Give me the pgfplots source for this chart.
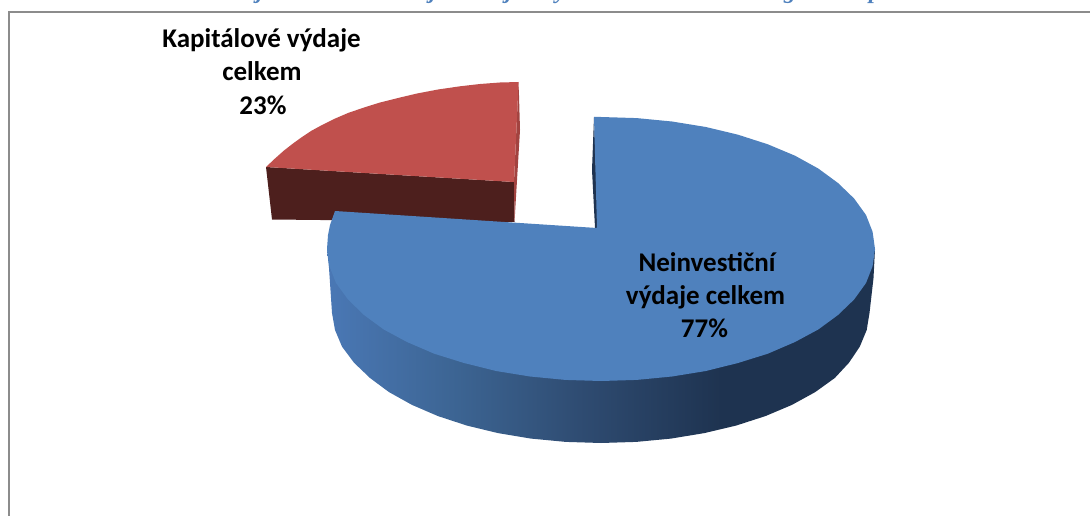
\documentclass[border=0pt]{standalone}
\usepackage{pgfplots}
\pgfplotsset{compat=1.18}
\usepackage{fontspec}
\setmainfont{Carlito}
\newfontfamily\titlefont{Liberation Serif}
\definecolor{pieblue}{HTML}{4F81BD}
\definecolor{piered}{HTML}{C0504D}
\definecolor{darkred}{HTML}{4D1F1D}
\definecolor{midred}{HTML}{A24340}
\definecolor{sliver}{HTML}{1F3350}
\definecolor{framegray}{HTML}{8C8C8C}
\pgfdeclarehorizontalshading{sideblue}{100bp}{
  rgb(0bp)=(0.29,0.47,0.71);
  rgb(25bp)=(0.29,0.47,0.71);
  rgb(37bp)=(0.235,0.392,0.573);
  rgb(48bp)=(0.184,0.298,0.447);
  rgb(61bp)=(0.118,0.2,0.314);
  rgb(75bp)=(0.118,0.2,0.314);
  rgb(100bp)=(0.118,0.2,0.314)}
\begin{document}
\begin{tikzpicture}
\useasboundingbox (0,0) rectangle (1090bp,516bp);
\begin{axis}[
  at={(0,0)}, anchor=south west,
  scale only axis, width=1090bp, height=516bp,
  xmin=0, xmax=1090, ymin=0, ymax=516, y dir=reverse,
  hide axis, clip=false, no markers]
% frame
\addplot[framegray, line width=2bp] coordinates {(9,516) (9,11.8) (1090,11.8)};
% red slice: front cut face, inner sliver, top
\addplot[draw=none, fill=darkred] coordinates {(266,167) (514,182) (514.5,222) (272,219.5)} --cycle;
\addplot[draw=none, fill=midred] coordinates {(518.6,82) (520,130) (514.5,222) (514,182)} --cycle;
\addplot[draw=none, fill=piered] coordinates {(518.6,82) (500,82.5) (480,84) (460,86.3) (438,89.5) (417,93.5) (398,98) (380,102.5) (364,107.5) (348,113) (334,119) (322,125) (311,131) (302,137) (293,143.5) (284,150.5) (275,158.5) (266,167) (514,182)} --cycle;
% blue slice: rim
\addplot[draw=none, shade, shading=sideblue] coordinates {
 (327,249) (329,268) (332,313) (335,330) (342,346.6) (354,362.7) (370,378) (389,392.1) (412,404.9) (438,416.1) (467,425.6) (498,433.1) (531.1,438.6) (565.8,441.9) (601,443)
 (636.2,441.9) (670.9,438.6) (704.3,433.1) (736,425.6) (765.4,416.1) (791.9,404.9) (815.2,392.1) (834.8,378) (849,362.7) (859.8,346.6) (866.7,330) (869.5,313) (873.5,278) (875,249)} --cycle;
% blue slice: inner sliver
\addplot[draw=none, fill=sliver] coordinates {(594,117) (592,170) (595,228) (598,228)} --cycle;
% blue slice: top
\addplot[draw=none, fill=pieblue] coordinates {
 (594,117) (601,117) (636.8,118.1) (672,121.5) (705.9,127) (738,134.7) (767.8,144.3) (795,155.7) (818.4,168.6) (838,183) (854.1,198.5) (866,215) (872.6,231.8) (875,249)
 (872.6,266.2) (866,283) (854.1,299.5) (838,315) (818.4,329.4) (795,342) (767.8,353.7) (738,363) (705.9,371) (672,376.5) (636.8,379.9) (601,381)
 (565.2,379.9) (530,376.5) (496.1,371) (464,363) (434.2,353.7) (407,342) (383.6,329.4) (364,315) (348,299.5) (336,283) (329.4,266.2) (327,249)
 (328,235) (330,225) (335,211) (597,228)} --cycle;
% labels
\def\lab{\fontsize{27bp}{32bp}\selectfont\bfseries}
\node[anchor=base, inner sep=0pt, text=black] at (axis cs:261.5,48) {\lab Kapitálové výdaje};
\node[anchor=base, inner sep=0pt, text=black] at (axis cs:262,81) {\lab celkem};
\node[anchor=base, inner sep=0pt, text=black] at (axis cs:263,114) {\lab 23\%};
\node[anchor=base, inner sep=0pt, text=black] at (axis cs:707,271) {\lab Neinvestiční};
\node[anchor=base, inner sep=0pt, text=black] at (axis cs:705.5,304) {\lab výdaje celkem};
\node[anchor=base, inner sep=0pt, text=black] at (axis cs:704.5,337) {\lab 77\%};
% clipped title remains
\def\ttl{\fontsize{24bp}{28bp}\selectfont\titlefont\bfseries\itshape}
\foreach \xx/\ch in {260/j,433/j,509/j,561/y,790/g,875/p}{
  \edef\tmp{\noexpand\node[anchor=base, inner sep=0pt, text=pieblue] at (axis cs:\xx,-1.5) {\noexpand\ttl \ch};}
  \tmp
}
\end{axis}
\end{tikzpicture}
\end{document}
